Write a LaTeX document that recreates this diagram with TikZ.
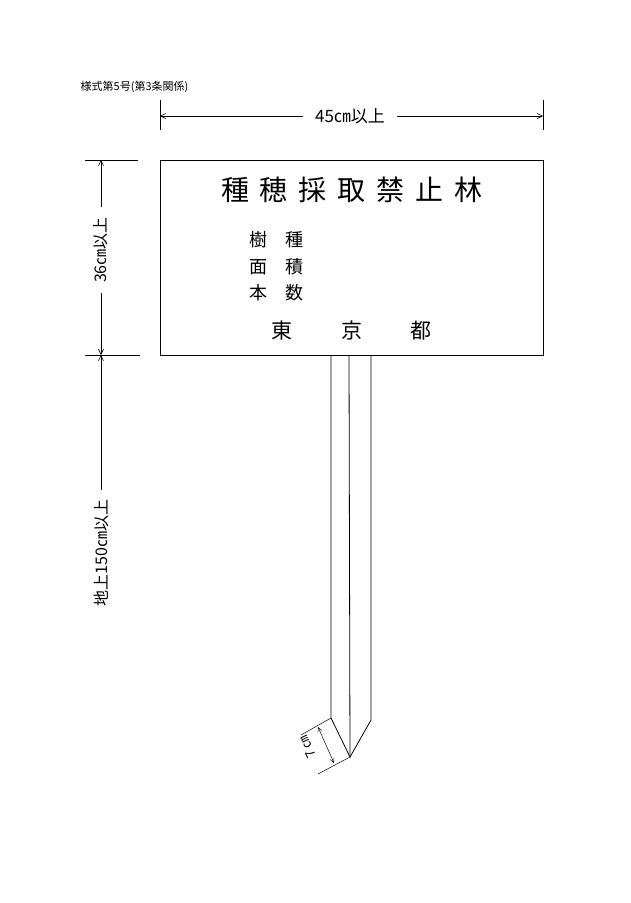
\documentclass[tikz,border=0pt]{standalone}
\usepackage{fontspec}
\setmainfont{Noto Sans CJK JP}
\usetikzlibrary{arrows.meta}
\begin{document}
\begin{tikzpicture}[x=1pt,y=-1pt,line width=0.8pt,
  dim/.style={line width=0.6pt,-{Straight Barb[length=5pt,width=5pt]}},
  lbl/.style={inner sep=1pt,fill=white}]
\useasboundingbox (0,0) rectangle (630,903);
\node[anchor=west,font=\fontsize{11}{13}\selectfont] (hdr) at (77,87) {様式第5号(第3条関係)};
% sign
\draw (160,160) rectangle (543,355);
\node[font=\fontsize{28}{32}\selectfont] (title) at (352,190) {種\hspace{11pt}穂\hspace{11pt}採\hspace{11pt}取\hspace{11pt}禁\hspace{11pt}止\hspace{11pt}林};
\begin{scope}[every node/.style={anchor=west,font=\fontsize{18}{21}\selectfont}]
\node (i1) at (246,240) {樹\hspace{18pt}種};
\node (i2) at (246,267) {面\hspace{18pt}積};
\node (i3) at (246,293) {本\hspace{18pt}数};
\end{scope}
\node[font=\fontsize{21}{24}\selectfont] (t1) at (282,331) {東};
\node[font=\fontsize{21}{24}\selectfont] (t2) at (352,331) {京};
\node[font=\fontsize{21}{24}\selectfont] (t3) at (421,331) {都};
% post
\coordinate (pl) at (331,718);
\coordinate (pr) at (371,720);
\coordinate (pt) at (350,757);
\draw (331,355) -- (pl) -- (pt) -- (pr) -- (371,355);
\draw (349,355) -- (pt);
% 7 cm dim
\draw[line width=0.5pt] (pl) -- (301,735);
\draw[line width=0.5pt] (pt) -- (318,774);
\draw[line width=0.5pt,{Straight Barb[length=4pt,width=4pt]}-{Straight Barb[length=4pt,width=4pt]}] (318,727) -- (334,763);
\node[rotate=115,inner sep=0pt,font=\fontsize{13}{15}\selectfont] (seven) at (308,747) {7\,㎝};
% top dim
\draw[line width=0.6pt] (160,100) -- (160,130);
\draw[line width=0.6pt] (543,100) -- (543,130);
\node[font=\fontsize{17}{20}\selectfont] (w) at (350,116) {45㎝以上};
\draw[dim] (w.west) ++(-8,0) -- (160,116);
\draw[dim] (w.east) ++(8,0) -- (543,116);
% left dims
\draw[line width=0.6pt] (85,160) -- (138,160);
\draw[line width=0.6pt] (85,355) -- (140,355);
\node[rotate=90,font=\fontsize{16}{18}\selectfont] (h1) at (101,250) {36㎝以上};
\draw[dim] (h1.east) ++(0,-6) -- (101,160);
\draw[dim] (h1.west) ++(0,6) -- (101,355);
\node[rotate=90,font=\fontsize{16}{18}\selectfont] (h2) at (101,553) {地上150㎝以上};
\draw[dim] (h2.east) ++(0,-6) -- (101,355);
\end{tikzpicture}
\end{document}
